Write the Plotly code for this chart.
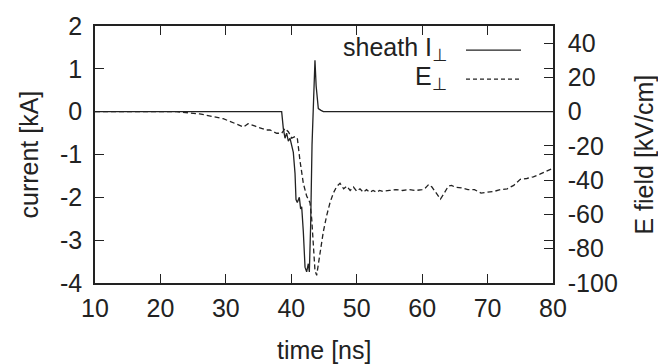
import plotly.graph_objects as go

# ---- data ----
t_I = [10, 38.53, 38.78, 39.04, 39.29, 39.55, 39.80, 40.06, 40.31, 40.57, 40.72, 40.92,
       41.23, 41.43, 41.59, 41.84, 42.10, 42.35, 42.60, 42.76, 42.96, 43.17, 43.37,
       43.62, 43.80, 44.13, 44.54, 44.90, 80]
I_sheath = [0, 0, -0.39, -0.62, -0.50, -0.69, -0.62, -0.77, -0.95, -1.44, -2.05, -2.12,
            -2.00, -2.27, -2.22, -2.80, -3.63, -3.74, -3.55, -3.74, -2.65, -0.77, 0.36,
            1.20, 0.60, 0.07, 0.03, 0, 0]

t_E = [10, 22.5, 26.0, 29.6, 32.7, 33.4, 34.5, 36.2, 36.75, 37.77, 38.53, 39.04, 39.55,
       40.06, 40.57, 40.92, 41.33, 41.84, 42.35, 42.86, 43.12, 43.37, 43.62, 43.88, 44.13,
       44.39, 44.90, 45.41, 45.92, 46.43, 46.94, 47.45, 48.0, 48.5, 49.0, 49.5, 50.0, 50.5,
       51.0, 51.5, 52.0, 52.5, 53.0, 53.5, 54.0, 55.0, 56.0, 57.0, 58.0, 59.0, 60.0, 60.5,
       61.0, 61.5, 62.0, 62.5, 62.8, 63.3, 64.0, 64.5, 65.0, 66.0, 67.0, 68.0, 69.0, 70.0,
       71.0, 72.0, 73.0, 74.0, 75.0, 76.0, 77.0, 78.0, 79.0, 80.0]
E_perp = [0, 0, -1.3, -4.1, -8.9, -7.0, -8.5, -10.7, -10.7, -12.6, -12.6, -9.8, -11.7,
          -15.4, -14.5, -15.4, -28.6, -41.8, -49.3, -53.1, -62.5, -79.5, -92.7, -95.5, -88.9,
          -83.2, -70.0, -60.6, -53.1, -47.5, -43.7, -41.8, -45.0, -43.5, -46.0, -44.0, -46.5,
          -45.0, -47.0, -45.5, -47.0, -46.0, -47.0, -46.0, -46.5, -46.0, -45.5, -46.0, -45.5,
          -46.0, -45.5, -44.5, -42.5, -44.0, -47.0, -50.0, -51.0, -48.0, -43.5, -43.0, -44.0,
          -44.5, -45.5, -45.5, -47.5, -47.0, -46.5, -45.5, -45.0, -43.0, -39.5, -39.0, -38.0,
          -36.5, -34.5, -33.0]

x_ticks = [10, 20, 30, 40, 50, 60, 70, 80]
y1_ticks = [-4, -3, -2, -1, 0, 1, 2]
y2_ticks = [-100, -80, -60, -40, -20, 0, 20, 40]
PERP = "<sub><span style='font-family:DejaVu Sans'>⊥</span></sub>"
legend_labels = ["sheath I" + PERP, "E" + PERP]

# ---- style ----
FONT = "Liberation Sans, Arial, sans-serif"
FS = 25
INK = "#222222"
W, H = 658, 364
L, R, T, B = 95, 553, 17, 283


def px(x):
    return (x - L) / (R - L)


def py(y):
    return (B - y) / (B - T)


def labels(vals):
    return [str(v) for v in vals]  # ASCII hyphen-minus like the reference


fig = go.Figure()
fig.add_trace(go.Scatter(x=t_I, y=I_sheath, mode="lines",
                         line=dict(color=INK, width=1.3), yaxis="y", showlegend=False))
fig.add_trace(go.Scatter(x=t_E, y=E_perp, mode="lines",
                         line=dict(color=INK, width=1.3, dash="5px,3px"),
                         yaxis="y2", showlegend=False))

axis_common = dict(showline=True, linecolor=INK, linewidth=1.5, ticks="inside",
                   ticklen=9, tickwidth=1.3, tickcolor=INK, showgrid=False, zeroline=False,
                   tickfont=dict(family=FONT, size=FS, color=INK))

fig.update_layout(
    width=W, height=H,
    margin=dict(l=L, r=W - R, t=T, b=H - B),
    paper_bgcolor="white", plot_bgcolor="white",
    xaxis=dict(range=[10, 80], tickvals=x_ticks, ticktext=labels(x_ticks), mirror="ticks",
               ticklabelstandoff=2, **axis_common),
    yaxis=dict(range=[-4, 2], tickvals=y1_ticks, ticktext=labels(y1_ticks), mirror="ticks",
               ticklabelstandoff=6, **axis_common),
    yaxis2=dict(range=[-100, 50], tickvals=y2_ticks, ticktext=labels(y2_ticks),
                overlaying="y", side="right", ticklabelstandoff=8, **axis_common),
)

ann_font = dict(family=FONT, size=FS, color=INK)
fig.add_annotation(text="time [ns]", xref="paper", yref="paper", x=px(324), y=py(352),
                   showarrow=False, font=ann_font, xanchor="center", yanchor="middle")
fig.add_annotation(text="current [kA]", xref="paper", yref="paper", x=px(28), y=py(150),
                   showarrow=False, font=ann_font, textangle=-90,
                   xanchor="center", yanchor="middle")
fig.add_annotation(text="E field [kV/cm]", xref="paper", yref="paper", x=px(643), y=py(150),
                   showarrow=False, font=ann_font, textangle=-90,
                   xanchor="center", yanchor="middle")

# legend (gnuplot style: text left, sample right)
leg_y = [42, 72]
dashes = ["solid", "4px,3px"]
for lab, yy, d in zip(legend_labels, leg_y, dashes):
    fig.add_annotation(text=lab, xref="paper", yref="paper", x=px(449), y=py(yy - 1),
                       showarrow=False, font=ann_font, xanchor="right", yanchor="middle")
    fig.add_shape(type="line", xref="paper", yref="paper", x0=px(466), x1=px(521),
                  y0=py(yy), y1=py(yy), line=dict(color=INK, width=1.3, dash=d))

fig.write_html("out.html")
